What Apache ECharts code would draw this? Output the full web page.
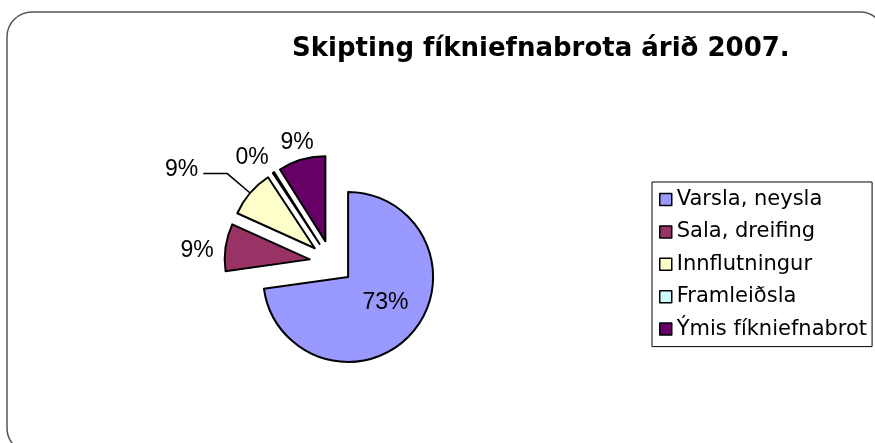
<!DOCTYPE html>
<html>
<head>
<meta charset="utf-8">
<script src="https://cdn.jsdelivr.net/npm/echarts@6/dist/echarts.min.js"></script>
<style>
  html, body { margin: 0; padding: 0; background: #fff; }
  #chart-container { width: 875px; height: 443px; }
</style>
</head>
<body>
<div id="chart-container"></div>
<script>
// gögn
const flokkar = ['Varsla, neysla', 'Sala, dreifing', 'Innflutningur', 'Framleiðsla', 'Ýmis fíkniefnabrot'];
const gildi = [73, 9, 9, 0.3, 9];
const litir = ['#9999FF', '#993366', '#FFFFCC', '#CCFFFF', '#660066'];

// lína og staða merkimiða fyrir hverja sneið
const merkiStill = [
  { position: 'inside', len: 0, len2: 0, dist: 0, line: false, dx: 3, dy: -4 },
  { position: 'outside', len: 5, len2: 0, dist: 5, line: false, dx: -2, dy: 4 },
  { position: 'outside', len: 30, len2: 24, dist: 5, line: true, dx: 0, dy: -4 },
  { position: 'outside', len: 16, len2: 0, dist: 2, line: false, dx: 6, dy: -2 },
  { position: 'outside', len: 18, len2: 0, dist: 0, line: false, dx: 17, dy: 0 }
];

let myChart = echarts.init(document.getElementById('chart-container'), null, { renderer: 'canvas' });

const gogn = flokkar.map((nafn, i) => ({
  name: nafn,
  value: gildi[i],
  selected: true,
  itemStyle: { color: litir[i] },
  label: {
    position: merkiStill[i].position,
    distanceToLabelLine: merkiStill[i].dist
  },
  labelLine: {
    show: merkiStill[i].line,
    length: merkiStill[i].len,
    length2: merkiStill[i].len2
  }
}));

const opciones = {
  animation: false,
  backgroundColor: '#fff',
  graphic: [{
    type: 'rect',
    z: -10,
    shape: { x: 7, y: 12, width: 878, height: 441, r: 25 },
    style: { fill: 'none', stroke: '#555', lineWidth: 1.5 }
  }],
  title: {
    text: 'Skipting fíkniefnabrota árið 2007.',
    left: 292,
    top: 36,
    padding: 0,
    textStyle: { fontFamily: 'DejaVu Sans', fontWeight: 'bold', fontSize: 26, color: '#000' }
  },
  legend: {
    orient: 'vertical',
    left: 652,
    top: 182,
    padding: [7, 5, 7, 7],
    itemWidth: 12,
    itemHeight: 12,
    itemGap: 11.4,
    icon: 'rect',
    borderColor: '#000',
    borderWidth: 1,
    backgroundColor: '#fff',
    selectedMode: false,
    itemStyle: { borderColor: '#000', borderWidth: 1.5 },
    textStyle: { fontFamily: 'DejaVu Sans', fontSize: 21, lineHeight: 21, color: '#000' },
    data: flokkar
  },
  series: [{
    type: 'pie',
    center: [331.5, 262.5],
    radius: 85,
    startAngle: 90,
    clockwise: true,
    selectedMode: 'multiple',
    selectedOffset: 22,
    avoidLabelOverlap: false,
    percentPrecision: 0,
    itemStyle: { borderColor: '#000', borderWidth: 2 },
    label: {
      formatter: '{d}%',
      fontFamily: 'Liberation Sans',
      fontSize: 23,
      color: '#000'
    },
    labelLine: { lineStyle: { color: '#000', width: 1.5 } },
    labelLayout: function (params) {
      const s = merkiStill[params.dataIndex];
      return { dx: s.dx, dy: s.dy };
    },
    emphasis: { disabled: true },
    data: gogn
  }]
};

myChart.setOption(opciones);
window.addEventListener('resize', myChart.resize);
</script>
</body>
</html>
